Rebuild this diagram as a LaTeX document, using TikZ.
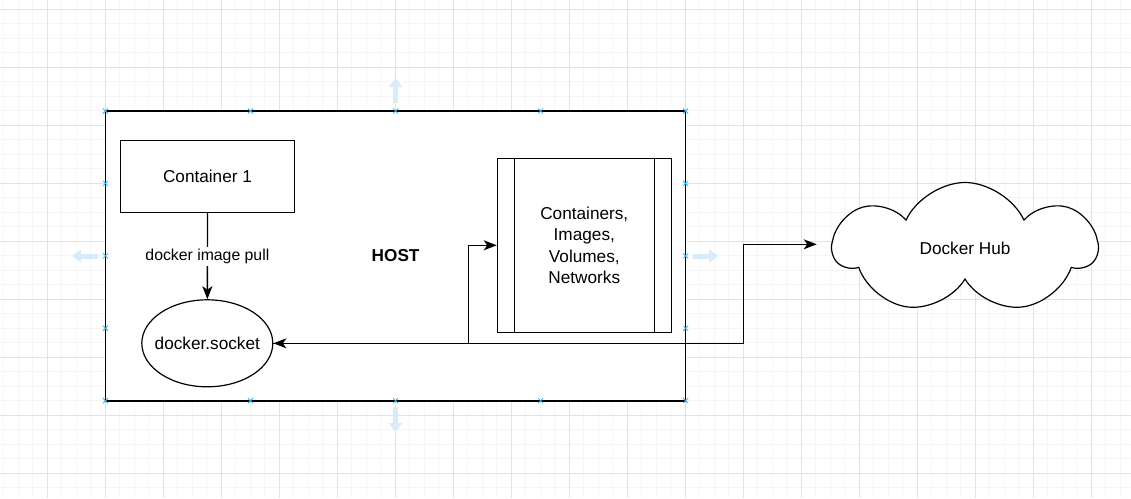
\documentclass[tikz,border=0pt]{standalone}
\usepackage{fontspec}
\setmainfont{Liberation Sans}
\usetikzlibrary{shapes.geometric,shapes.symbols,arrows.meta}

\definecolor{gridminor}{RGB}{245,245,245}
\definecolor{gridmajor}{RGB}{226,226,226}
\definecolor{hintblue}{RGB}{214,236,250}
\definecolor{handleblue}{RGB}{41,182,242}

\begin{document}
\begin{tikzpicture}[
            x=1pt, y=-1pt,
            >={Stealth[length=13pt,width=10pt,inset=3.5pt]},
            every node/.style={font=\fontsize{17.2}{21.5}\selectfont},
            minorline/.style={draw=gridminor, line width=0.8pt},
            majorline/.style={draw=gridmajor, line width=0.8pt},
            hostbox/.style={draw, fill=white, line width=1.5pt, minimum width=580pt, minimum height=290pt, font=\fontsize{17.2}{21.5}\selectfont\bfseries},
            box/.style={draw, fill=white, line width=1.2pt, minimum width=174pt, minimum height=72pt},
            storebox/.style={draw, fill=white, line width=1.2pt, minimum width=174pt, minimum height=174pt, align=center},
            sockshape/.style={draw, fill=white, ellipse, line width=1.2pt, minimum width=131pt, minimum height=87pt, inner sep=0pt},
            hubshape/.style={draw, fill=white, cloud, cloud puffs=7, cloud puff arc=130, aspect=2, line width=1.2pt, minimum width=262pt, minimum height=131pt},
            link/.style={draw, line width=1.3pt},
            hint/.style={draw=hintblue, line width=5pt, -{Triangle[length=9pt,width=13pt]}},
            handle/.style={draw=handleblue, line width=0.8pt}
            ]

            \useasboundingbox (0,0) rectangle (1131,498);
            \fill[white] (0,0) rectangle (1131,498);

            % grid
            \begin{scope}
            \clip (0,0) rectangle (1131,498);
            \foreach \i in {0,...,77} \draw[minorline] (3.8+14.5*\i,0) -- ++(0,498);
            \foreach \j in {0,...,34} \draw[minorline] (0,-5.2+14.5*\j) -- ++(1131,0);
            \foreach \i in {0,...,19} \draw[majorline] (-10.7+58*\i,0) -- ++(0,498);
            \foreach \j in {0,...,8} \draw[majorline] (0,9.3+58*\j) -- ++(1131,0);
            \end{scope}

            % hover hints
            \draw[hint] (395.6,103) -- (395.6,78);
            \draw[hint] (98,256) -- (72,256);
            \draw[hint] (693,256) -- (718,256);
            \draw[hint] (395.6,407) -- (395.6,432);

            \node [hostbox] (host) at (395.6,255.9) {HOST};
            \node [box] (container) at (207.5,176.5) {Container 1};
            \node [sockshape, label={center:docker.socket}] (socket) at (207.3,343.3) {};
            \node [storebox] (store) at (584.3,245.3) {Containers,\\Images,\\Volumes,\\Networks};
            \draw[line width=1.2pt] ([xshift=17.4pt]store.north west) -- ([xshift=17.4pt]store.south west);
            \draw[line width=1.2pt] ([xshift=-17.4pt]store.north east) -- ([xshift=-17.4pt]store.south east);
            \node [hubshape] (hub) at (965,248) {Docker Hub};

            \coordinate (storeturn) at (468.3,245.3);
            \coordinate (hubturn) at (743.3,244.3);
            \coordinate (hubin) at (816.7,244.3);

            \draw[link,->] (container) -- node[fill=white, inner sep=2pt, font=\fontsize{15.8}{19}\selectfont]{docker image pull} (socket);
            \draw[link,->] (socket.east) -| (storeturn) -- (store.west);
            \draw[link,<->] (socket.east) -| (hubturn) -- (hubin);

            % selection handles
            \foreach \hx/\hy in {105.5/111, 250.5/111, 395.6/111, 540.6/111, 685.7/111,
                                 105.5/400.7, 250.5/400.7, 395.6/400.7, 540.6/400.7, 685.7/400.7,
                                 105.5/183.4, 105.5/255.9, 105.5/328.3,
                                 685.7/183.4, 685.7/255.9, 685.7/328.3}
                \draw[handle] (\hx-2.5,\hy-2.5) -- (\hx+2.5,\hy+2.5) (\hx-2.5,\hy+2.5) -- (\hx+2.5,\hy-2.5);
        \end{tikzpicture}
\end{document}
